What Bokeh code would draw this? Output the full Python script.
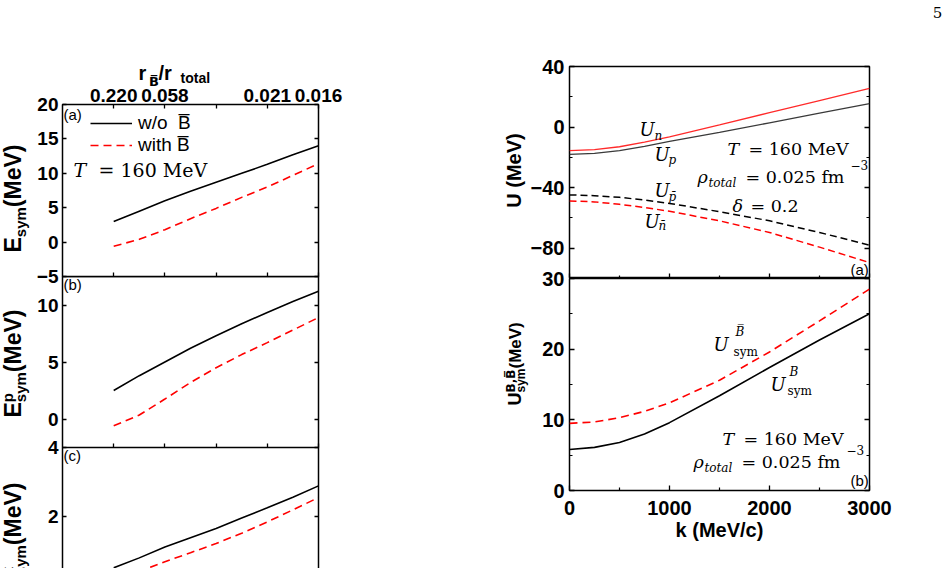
from math import pi

from bokeh.embed import file_html
from bokeh.layouts import column, row
from bokeh.models import (CustomJSTickFormatter, FixedTicker, Grid, Label, Legend,
                          LegendItem, LinearAxis, Range1d)
from bokeh.plotting import figure
from bokeh.resources import INLINE

# ---------------------------------------------------------------- data
# left column: symmetry energy vs total density (top axis: antibaryon fraction)
rho_total = [0.010, 0.015, 0.020, 0.025, 0.030, 0.035, 0.040, 0.045, 0.050]
ratio_tick_pos = [0.01, 0.02, 0.03, 0.04, 0.05]
ratio_tick_text = ["0.220", "0.058", "", "0.021", "0.016"]

esym_without = [3.0, 4.5, 6.0, 7.4, 8.7, 10.0, 11.3, 12.7, 14.0]
esym_with = [-0.6, 0.4, 1.8, 3.4, 4.9, 6.5, 8.0, 9.7, 11.4]
esym_pot_without = [2.5, 3.8, 5.0, 6.2, 7.3, 8.35, 9.35, 10.3, 11.2]
esym_pot_with = [-0.6, 0.35, 1.75, 3.2, 4.5, 5.65, 6.7, 7.8, 8.9]
esym_kin_without = [0.49, 0.78, 1.1, 1.37, 1.64, 1.94, 2.24, 2.55, 2.88]
esym_kin_with = [0.1, 0.38, 0.67, 0.93, 1.2, 1.5, 1.83, 2.18, 2.54]

# right column: single-particle potentials vs momentum
k_mom = [0, 250, 500, 750, 1000, 1500, 2000, 2500, 3000]
u_n = [-15.5, -14.9, -13.0, -9.9, -6.4, 1.4, 9.5, 17.5, 25.5]
u_p = [-18.0, -17.4, -15.5, -12.7, -9.5, -3.5, 2.8, 9.2, 15.5]
u_pbar = [-44.8, -45.3, -46.4, -48.2, -50.4, -55.9, -61.9, -69.6, -78.0]
u_nbar = [-48.8, -49.4, -51.0, -53.1, -55.6, -61.9, -69.6, -79.3, -89.5]
usym_b = [5.8, 6.1, 6.8, 8.0, 9.6, 13.4, 17.4, 21.3, 25.0]
usym_bbar = [9.5, 9.7, 10.3, 11.2, 12.4, 15.6, 19.6, 24.0, 28.5]

# ---------------------------------------------------------------- styling
SANS = "Liberation Sans"
SANS_MARKS = "DejaVu Sans"   # has the combining overline in bold
SERIF = "DejaVu Serif"
RED = "#ff0000"
OVER = "\u0305"
PAGE_W, PAGE_H = 949, 568
BASE_SHIFT = 0.36   # alphabetic-baseline correction of Label boxes, in em

# Arial/Liberation Sans Bold advance widths (per em) for stacked rotated labels
BOLD_W = {" ": .278, "(": .333, ")": .333, "M": .833, "e": .556, "V": .667,
          "E": .667, "s": .556, "y": .556, "m": .889, "p": .611, "k": .556,
          "U": .722, "B": .722, ",": .278}


def bold_width(s, size):
    return sum(BOLD_W.get(c, 0.0 if c == OVER else 0.556) for c in s) * size


def make_fig(width, height, xr, yr, left, right, top, bottom, margin=None):
    p = figure(width=width, height=height, x_range=Range1d(*xr), y_range=Range1d(*yr),
               x_axis_location=None, y_axis_location=None, toolbar_location=None,
               output_backend="svg", min_border_left=left, min_border_right=right,
               min_border_top=top, min_border_bottom=bottom)
    if margin is not None:
        p.margin = margin
    p.background_fill_color = None
    p.border_fill_color = None
    p.outline_line_color = "black"
    p.outline_line_width = 1.5
    for r in list(p.center):
        if isinstance(r, Grid):
            r.visible = False
    return p


def add_axis(p, side, ticks, minor=(), text=None, size=19, tick_in=4, minor_in=0,
             standoff=4, line=False):
    ax = LinearAxis(ticker=FixedTicker(ticks=list(ticks), minor_ticks=list(minor)))
    ax.axis_line_color = "black" if line else None
    ax.axis_line_width = 1.5
    ax.major_tick_in = tick_in
    ax.major_tick_out = 0
    ax.minor_tick_in = minor_in
    ax.minor_tick_out = 0
    ax.major_tick_line_width = 1.3
    ax.minor_tick_line_width = 1.2
    if text is None:
        ax.formatter = CustomJSTickFormatter(code="return '';")
        ax.major_label_text_font_size = "0px"
        ax.major_label_standoff = 0
    else:
        if text == "num":
            ax.formatter = CustomJSTickFormatter(
                code="return tick < 0 ? '\u2212' + String(Math.abs(tick)) : String(tick);")
        else:
            ax.formatter = CustomJSTickFormatter(args=dict(labels=text),
                                                 code="return labels[index];")
        ax.major_label_text_font = SANS
        ax.major_label_text_font_style = "bold"
        ax.major_label_text_font_size = f"{size}px"
        ax.major_label_text_color = "black"
        ax.major_label_standoff = standoff
    p.add_layout(ax, side)
    return ax


# transparent layer over the whole page that carries the annotation texts,
# so that labels lying outside a plot frame are not clipped
layer = figure(width=PAGE_W, height=PAGE_H, x_range=Range1d(0, PAGE_W),
               y_range=Range1d(PAGE_H, 0), x_axis_location=None, y_axis_location=None,
               toolbar_location=None, output_backend="svg", min_border=0,
               margin=(-PAGE_H, 0, 0, 0))
layer.background_fill_color = None
layer.border_fill_color = None
layer.outline_line_color = None
for r in list(layer.center):
    if isinstance(r, Grid):
        r.visible = False


def put(px, py, text, size, font=SANS, style="normal", angle=0.0,
        align="left", color="black"):
    """Text with its baseline at page pixel (px, py); rotated text reads upwards."""
    if angle:
        px -= BASE_SHIFT * size
    else:
        py -= BASE_SHIFT * size
    layer.add_layout(Label(x=px, y=py, x_units="canvas", y_units="canvas", text=text,
                           text_font=font, text_font_size=f"{size}px",
                           text_font_style=style, text_color=color, angle=angle,
                           text_align=align, text_baseline="alphabetic"))


def vlabel(xbase, ystart, groups):
    """Bold label reading upwards; each group is a list of (text, size, dx)
    pieces sharing the same position (super- and subscripts)."""
    y = ystart
    for group in groups:
        adv = 0.0
        for text, size, dx in group:
            font = SANS_MARKS if OVER in text else SANS
            put(xbase + dx, y, text, size, font=font, style="bold", angle=pi / 2)
            adv = max(adv, bold_width(text, size))
        y -= adv


def math(px, py, pieces):
    """Serif math text: pieces of (dx, dy, text, size, style)."""
    for dx, dy, text, size, style in pieces:
        put(px + dx, py + dy, text, size, font=SERIF, style=style)


# ---------------------------------------------------------------- left column
LW = 480
XR = (0.0, 0.05)

fa = make_fig(LW, 286, XR, (-5, 20), 62, 162, 104, 10)
fb = make_fig(LW, 174, XR, (-2.5, 12.5), 62, 162, 0, 3, margin=(-10, 0, 0, 0))
fc = make_fig(LW, 131, XR, (0.47, 4.0), 62, 162, 10, 0, margin=(-13, 0, 0, 0))
fc.outline_line_color = None

add_axis(fa, "above", ratio_tick_pos, text=ratio_tick_text, size=19, standoff=3)
add_axis(fa, "below", ratio_tick_pos)
add_axis(fa, "left", [-5, 0, 5, 10, 15, 20], text="num")
add_axis(fa, "right", [-5, 0, 5, 10, 15, 20])

add_axis(fb, "below", ratio_tick_pos)
add_axis(fb, "left", [0, 5, 10], text="num")
add_axis(fb, "right", [0, 5, 10])

add_axis(fc, "left", [0, 2, 4], text="num", line=True)
add_axis(fc, "right", [0, 2, 4], line=True)

solid_a = fa.line(rho_total, esym_without, line_color="black", line_width=1.6)
dash_a = fa.line(rho_total, esym_with, line_color=RED, line_width=1.6, line_dash="8 5")
fb.line(rho_total, esym_pot_without, line_color="black", line_width=1.6)
fb.line(rho_total, esym_pot_with, line_color=RED, line_width=1.6, line_dash="8 5")
fc.line(rho_total, esym_kin_without, line_color="black", line_width=1.6)
fc.line(rho_total, esym_kin_with, line_color=RED, line_width=1.6, line_dash="8 5")

fa.add_layout(Legend(
    items=[LegendItem(label="w/o\u00a0 B" + OVER, renderers=[solid_a]),
           LegendItem(label="with B" + OVER, renderers=[dash_a])],
    location=(28, 120), orientation="vertical", border_line_color=None,
    background_fill_alpha=0, padding=0, margin=0, spacing=0,
    glyph_width=42, glyph_height=22, label_height=22, label_width=10,
    label_standoff=6, label_text_font=SANS, label_text_font_size="19px",
    label_text_color="black", label_text_baseline="middle"))

# top axis title r_Bbar / r_total
put(138, 80, "r", 20, style="bold")
put(148.5, 86, "B" + OVER, 13, font=SANS_MARKS, style="bold")
put(158, 80, "/r", 20, style="bold")
put(180, 83, "total", 14, style="bold")

vlabel(21, 252, [[("E", 23, 0)], [("sym", 15, 4.5)], [(" (MeV)", 23, 0)]])
vlabel(21, 417, [[("E", 23, 0)], [("p", 15, -9), ("sym", 15, 4.5)], [(" (MeV)", 23, 0)]])
vlabel(21, 590, [[("E", 23, 0)], [("k", 15, -9), ("sym", 15, 4.5)], [(" (MeV)", 23, 0)]])

put(63, 119.5, "(a)", 15)
put(63, 289.5, "(b)", 15)
put(63, 460, "(c)", 15)
math(73, 176, [(0, 0, "T", 19, "italic"), (25, 0, "= 160 MeV", 19, "normal")])

# ---------------------------------------------------------------- right column
RW = PAGE_W - LW
KR = (0, 3000)

ra = make_fig(RW, 278, KR, (-100, 40), 89, 80, 66, 0)
rb = make_fig(RW, 300, KR, (0, 30), 89, 80, 10, 78, margin=(-10, 0, 0, 0))

add_axis(ra, "below", [0, 1000, 2000, 3000], minor=[500, 1500, 2500], tick_in=5, minor_in=3)
add_axis(ra, "left", [-80, -40, 0, 40], minor=[-100, -60, -20, 20], text="num",
         size=20, tick_in=5, minor_in=3, standoff=5)
add_axis(ra, "right", [-80, -40, 0, 40], minor=[-100, -60, -20, 20], tick_in=5, minor_in=3)

add_axis(rb, "below", [0, 1000, 2000, 3000], minor=[500, 1500, 2500], text="num",
         size=20, tick_in=5, minor_in=3, standoff=10)
add_axis(rb, "left", [0, 10, 20, 30], minor=[5, 15, 25], text="num",
         size=20, tick_in=5, minor_in=3, standoff=5)
add_axis(rb, "right", [0, 10, 20, 30], minor=[5, 15, 25], tick_in=5, minor_in=3)

ra.line(k_mom, u_n, line_color="#ff2a2a", line_width=1.3)
ra.line(k_mom, u_p, line_color="#3a3a3a", line_width=1.3)
ra.line(k_mom, u_pbar, line_color="black", line_width=1.5, line_dash="7 4")
ra.line(k_mom, u_nbar, line_color=RED, line_width=1.5, line_dash="7 4")

rb.line(k_mom, usym_bbar, line_color=RED, line_width=1.6, line_dash="8 5")
rb.line(k_mom, usym_b, line_color="black", line_width=1.6)

put(937, 17, "5", 15, font=SERIF, align="center")

put(521, 170, "U (MeV)", 20, style="bold", angle=pi / 2, align="center")
vlabel(521, 405, [[("U", 18, 0)], [("B,B" + OVER, 12, -6), ("sym", 12, 4)],
                  [(" (MeV)", 17, 0)]])
put(719, 537, "k (MeV/c)", 20, style="bold", align="center")

math(639, 135, [(0, 0, "U", 18, "italic"), (15, 5, "n", 12, "italic")])
math(654, 160, [(0, 0, "U", 18, "italic"), (14, 4, "p", 12, "italic")])
math(654, 196, [(0, 0, "U", 18, "italic"), (14, 5, "p\u0304", 12, "italic")])
math(644, 227, [(0, 0, "U", 18, "italic"), (14, 3, "n\u0304", 12, "italic")])

math(727, 155, [(0, 0, "T", 17.5, "italic"), (21, 0, "= 160 MeV", 17.5, "normal")])
math(697, 183, [(0, 0, "\u03c1", 17.5, "italic"), (11, 4, "total", 12, "italic"),
                (48, 0, "= 0.025 fm", 17.5, "normal"), (153, -14, "\u22123", 12, "normal")])
math(732, 212, [(0, 0, "\u03b4", 17.5, "italic"), (18, 0, "= 0.2", 17.5, "normal")])
put(850, 274.5, "(a)", 15)

math(713, 350, [(0, 0, "U", 18, "italic"), (22, -14, "B" + OVER, 12, "italic"),
                (20, 6, "sym", 12, "normal")])
math(770, 390, [(0, 0, "U", 18, "italic"), (19, -14, "B", 12, "italic"),
                (17, 5, "sym", 12, "normal")])
math(722, 445, [(0, 0, "T", 17.5, "italic"), (21, 0, "= 160 MeV", 17.5, "normal")])
math(693, 468, [(0, 0, "\u03c1", 17.5, "italic"), (11, 4, "total", 12, "italic"),
                (48, 0, "= 0.025 fm", 17.5, "normal"), (153, -14, "\u22123", 12, "normal")])
put(850, 485, "(b)", 15)

layout = column(row(column(fa, fb, fc), column(ra, rb)), layer)

with open("out.html", "w") as fh:
    fh.write(file_html(layout, INLINE))
